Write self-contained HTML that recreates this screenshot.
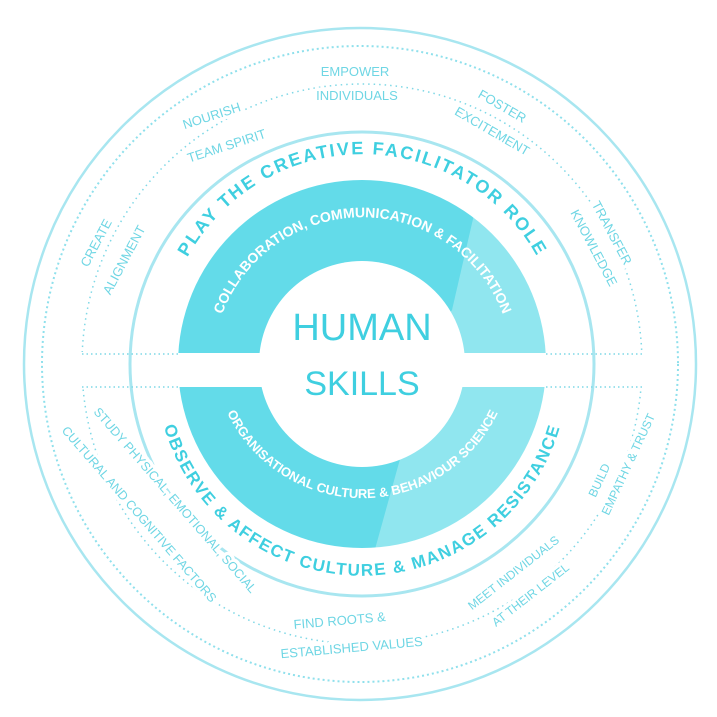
<!DOCTYPE html>
<html><head><meta charset="utf-8"><style>
html,body{margin:0;padding:0;background:#fff;}
svg{display:block;}
text{font-family:"Liberation Sans",sans-serif;}
.lb text{paint-order:stroke;stroke:#fff;stroke-width:7px;stroke-linejoin:round;}
</style></head><body>
<svg width="717" height="717" viewBox="0 0 717 717" xmlns="http://www.w3.org/2000/svg">
<defs>
<clipPath id="top"><rect x="0" y="0" width="717" height="353"/></clipPath>
<clipPath id="bot"><rect x="0" y="387" width="717" height="330"/></clipPath>
<mask id="donut"><rect width="717" height="717" fill="#000"/><circle cx="362" cy="364" r="184" fill="#fff"/><circle cx="362" cy="364" r="103" fill="#000"/></mask>
<path id="a1" d="M 185 262 A 200 200 0 0 1 540 262"/>
<path id="a2" d="M 215 340 A 150 150 0 0 1 510 340"/>
<path id="a3" d="M 157 390 A 206 206 0 0 0 567 390"/>
<path id="a4" d="M 220 395 A 150 150 0 0 0 505 395"/>
</defs>
<circle cx="362" cy="364" r="280" fill="none" stroke="#7fd8e6" stroke-width="1.5" stroke-dasharray="1.5 4"/>
<rect x="60" y="352" width="600" height="36" fill="#fff"/>
<circle cx="360" cy="364" r="336" fill="none" stroke="#a8e6f0" stroke-width="2.5"/>
<circle cx="360" cy="364" r="318" fill="none" stroke="#8fe0ec" stroke-width="2" stroke-dasharray="2 3"/>
<circle cx="362" cy="364" r="232" fill="none" stroke="#a8e6f0" stroke-width="3"/>
<line x1="82" y1="354" x2="178" y2="354" stroke="#7fd8e6" stroke-width="1.5" stroke-dasharray="1.5 3"/>
<line x1="82" y1="387" x2="178" y2="387" stroke="#7fd8e6" stroke-width="1.5" stroke-dasharray="1.5 3"/>
<line x1="546" y1="354" x2="642" y2="354" stroke="#7fd8e6" stroke-width="1.5" stroke-dasharray="1.5 3"/>
<line x1="546" y1="387" x2="642" y2="387" stroke="#7fd8e6" stroke-width="1.5" stroke-dasharray="1.5 3"/>
<g mask="url(#donut)">
<g clip-path="url(#top)"><rect x="0" y="0" width="717" height="353" fill="#63dbe9"/>
<polygon points="482,180 452,310 420,353 717,353 717,0 530,0" fill="#90e6ef"/></g>
<g clip-path="url(#bot)"><rect x="0" y="387" width="717" height="330" fill="#63dbe9"/>
<polygon points="420,387 372,560 717,560 717,387" fill="#90e6ef"/></g>
</g>
<text x="362" y="340" text-anchor="middle" font-size="38" fill="#3fcfe0">HUMAN</text>
<text x="362" y="395" text-anchor="middle" font-size="34" fill="#3fcfe0">SKILLS</text>
<text font-size="18" font-weight="bold" fill="#3fcfe0" letter-spacing="2"><textPath href="#a1" startOffset="50%" text-anchor="middle">PLAY  THE  CREATIVE  FACILITATOR  ROLE</textPath></text>
<text font-size="14" font-weight="bold" fill="#fff"><textPath href="#a2" startOffset="50%" text-anchor="middle">COLLABORATION, COMMUNICATION &amp; FACILITATION</textPath></text>
<text font-size="17" font-weight="bold" fill="#3fcfe0" letter-spacing="1.5"><textPath href="#a3" startOffset="50%" text-anchor="middle">OBSERVE &amp; AFFECT CULTURE  &amp;  MANAGE RESISTANCE</textPath></text>
<text font-size="13" font-weight="bold" fill="#fff"><textPath href="#a4" startOffset="50%" text-anchor="middle">ORGANISATIONAL CULTURE  &amp;  BEHAVIOUR SCIENCE</textPath></text>
<g font-size="13" fill="#6fd6e4" class="lb">
<text x="355" y="76" text-anchor="middle">EMPOWER</text>
<text x="357" y="100" text-anchor="middle">INDIVIDUALS</text>
<text x="213" y="120" transform="rotate(-18 213 120)" text-anchor="middle">NOURISH</text>
<text x="228" y="150" transform="rotate(-18 228 150)" text-anchor="middle">TEAM SPIRIT</text>
<text x="500" y="110" transform="rotate(30 500 110)" text-anchor="middle">FOSTER</text>
<text x="490" y="135" transform="rotate(30 490 135)" text-anchor="middle">EXCITEMENT</text>
<text x="100" y="245" transform="rotate(-62 100 245)" text-anchor="middle">CREATE</text>
<text x="128" y="262" transform="rotate(-62 128 262)" text-anchor="middle">ALIGNMENT</text>
<text x="608" y="235" transform="rotate(62 608 235)" text-anchor="middle">TRANSFER</text>
<text x="590" y="250" transform="rotate(62 590 250)" text-anchor="middle">KNOWLEDGE</text>
<text x="172" y="503" transform="rotate(49 172 503)" text-anchor="middle" font-size="12.5">STUDY PHYSICAL, EMOTIONAL, SOCIAL</text>
<text x="136" y="517" transform="rotate(49 136 517)" text-anchor="middle" font-size="12.5">CULTURAL AND COGNITIVE FACTORS</text>
<text x="340" y="625" transform="rotate(-5 340 625)" text-anchor="middle">FIND ROOTS &amp;</text>
<text x="352" y="652" transform="rotate(-5 352 652)" text-anchor="middle">ESTABLISHED VALUES</text>
<text x="516" y="576" transform="rotate(-38 516 576)" text-anchor="middle" font-size="12">MEET INDIVIDUALS</text>
<text x="533" y="598" transform="rotate(-38 533 598)" text-anchor="middle" font-size="12">AT THEIR LEVEL</text>
<text x="603" y="482" transform="rotate(-65 603 482)" text-anchor="middle" font-size="12">BUILD</text>
<text x="632" y="466" transform="rotate(-65 632 466)" text-anchor="middle" font-size="12">EMPATHY &amp; TRUST</text>
</g>
</svg>
</body></html>
